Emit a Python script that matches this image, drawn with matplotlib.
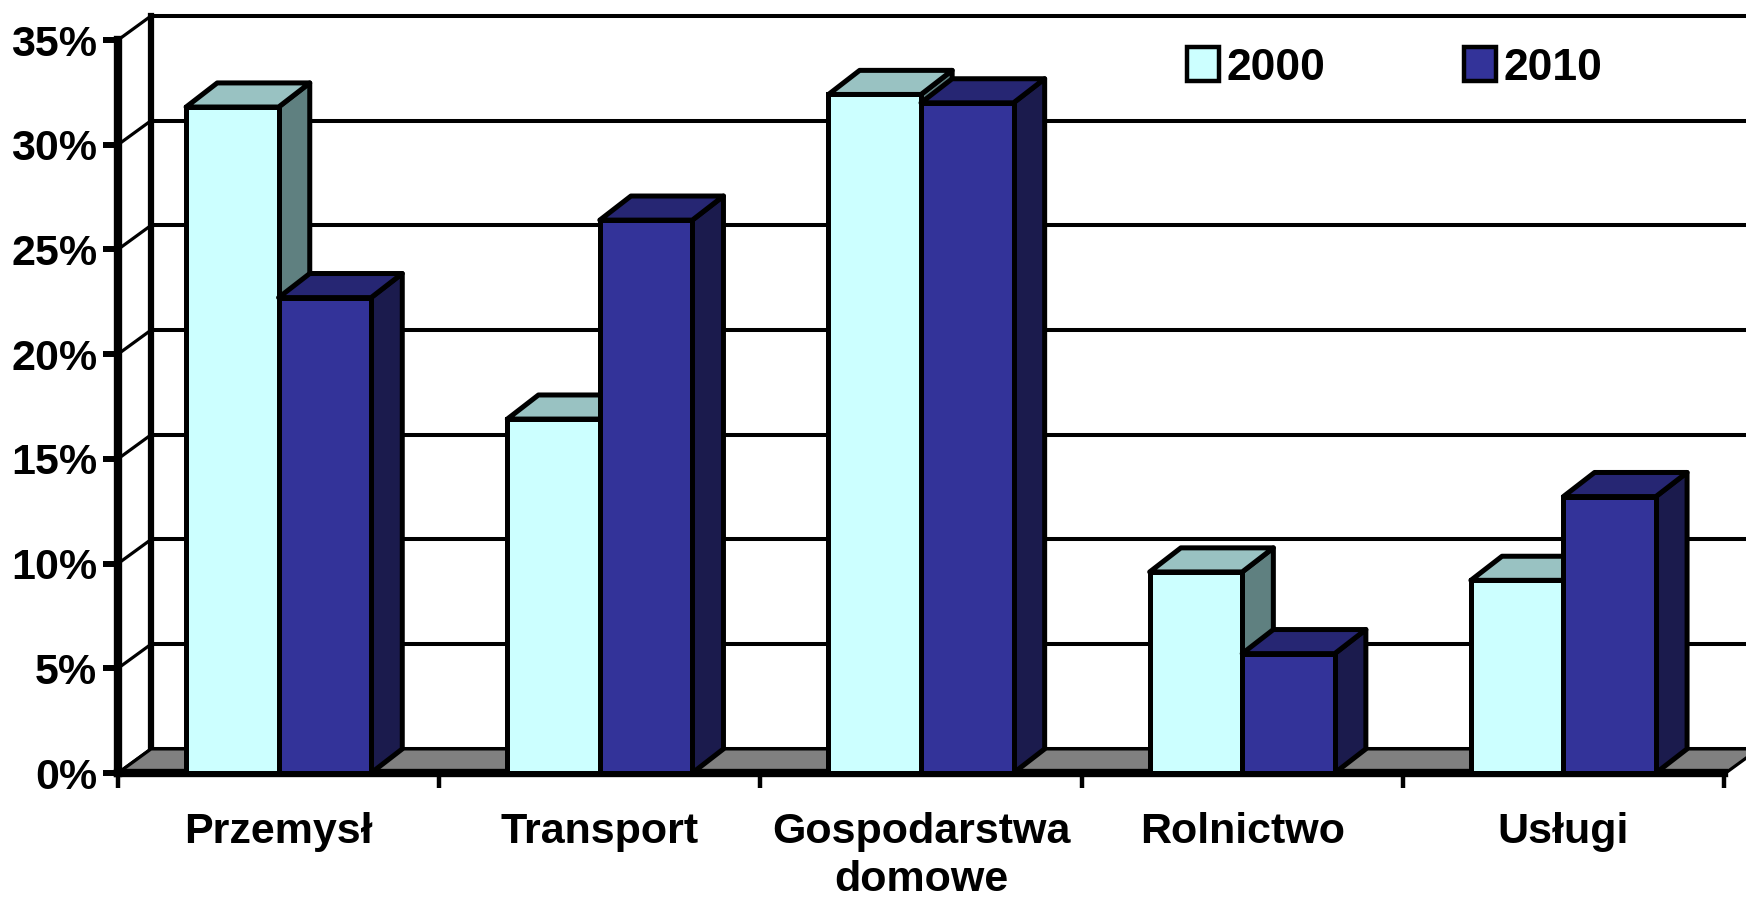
import numpy as np
import matplotlib
matplotlib.use('Agg')
import matplotlib.pyplot as plt
from matplotlib.patches import Patch

sectors = ['Przemysł', 'Transport', 'Gospodarstwa\ndomowe', 'Rolnictwo', 'Usługi']
years = ['2000', '2010']
share_2000 = [31.8, 16.9, 32.4, 9.6, 9.2]
share_2010 = [22.7, 26.4, 32.0, 5.7, 13.2]
y_ticks = [0, 5, 10, 15, 20, 25, 30, 35]

front_colors = ['#CCFFFF', '#333399']
top_colors = ['#99C2C2', '#262673']
side_colors = ['#5F8080', '#1B1B4D']

plt.rcParams['font.family'] = ['Liberation Sans', 'DejaVu Sans']
plt.rcParams['font.weight'] = 'bold'

W, H = 1746, 897
fig = plt.figure(figsize=(W / 100, H / 100), dpi=100)
ax = fig.add_axes([118 / W, 124 / H, 1606 / W, 733 / H])
ax.set_xlim(-0.5, 4.5)
ax.set_ylim(0, 35)

bar_w = 0.288
dx, dy = 0.097, 1.15   # bar depth (x in categories, y in %)
wx, wy = 0.103, 1.15   # wall depth
edge = 3.6

# side wall diagonals and back wall gridlines
for v in y_ticks:
    ax.plot([-0.5, -0.5 + wx], [v, v + wy], color='black', lw=2.3,
            clip_on=False, zorder=1)
    ax.plot([-0.5 + wx, 4.9], [v + wy, v + wy], color='black', lw=2.9,
            clip_on=False, zorder=1)
ax.plot([-0.5 + wx] * 2, [wy, 35 + wy], color='black', lw=4.5,
        clip_on=False, zorder=1, solid_capstyle='projecting')

# floor
ax.fill([-0.5, 4.505, 4.505 + wx, -0.5 + wx], [0, 0, wy, wy],
        facecolor='#808080', edgecolor='black', lw=2.3, clip_on=False,
        zorder=1.5, joinstyle='round')

x = np.arange(len(sectors))
for j, vals in enumerate([share_2000, share_2010]):
    xs = x + (j - 0.5) * bar_w
    z = 3 + j
    ax.bar(xs, vals, bar_w, color=front_colors[j], edgecolor='black',
           linewidth=edge, zorder=z + 0.2, clip_on=False)
    for xc, v in zip(xs, vals):
        l, r = xc - bar_w / 2, xc + bar_w / 2
        ax.fill([l, r, r + dx, l + dx], [v, v, v + dy, v + dy],
                facecolor=top_colors[j], edgecolor='black', lw=edge,
                zorder=z + 0.1, clip_on=False, joinstyle='round')
        ax.fill([r, r + dx, r + dx, r], [0, dy, v + dy, v],
                facecolor=side_colors[j], edgecolor='black', lw=edge,
                zorder=z, clip_on=False, joinstyle='round')

ax.set_yticks(y_ticks, [f'{v}%' for v in y_ticks])
ax.set_xticks(np.arange(-0.5, 5, 1), [])
ax.set_xticks(x, sectors, minor=True)
ax.tick_params(axis='x', which='minor', length=0, pad=28, labelsize=31)
ax.tick_params(axis='x', which='major', direction='out', length=11, width=3.2)
ax.tick_params(axis='y', direction='out', length=11, width=4.3, pad=4, labelsize=31)
for lab in ax.get_xticklabels(minor=True):
    lab.set_linespacing(1.25)
for s in ['top', 'right']:
    ax.spines[s].set_visible(False)
for s in ['left', 'bottom']:
    ax.spines[s].set_linewidth(6)
    ax.spines[s].set_zorder(2)
    ax.spines[s].set_capstyle('projecting')

handles = [Patch(facecolor=c, edgecolor='black', linewidth=3.2) for c in front_colors]
fig.legend(handles, years, loc='center left',
           bbox_to_anchor=(1187 / W, 1 - 68 / H), ncol=2, frameon=False,
           fontsize=32, handlelength=0.72, handleheight=0.78,
           handletextpad=0.18, columnspacing=3.1, borderpad=0, borderaxespad=0)

fig.savefig('out.png', dpi=100)
